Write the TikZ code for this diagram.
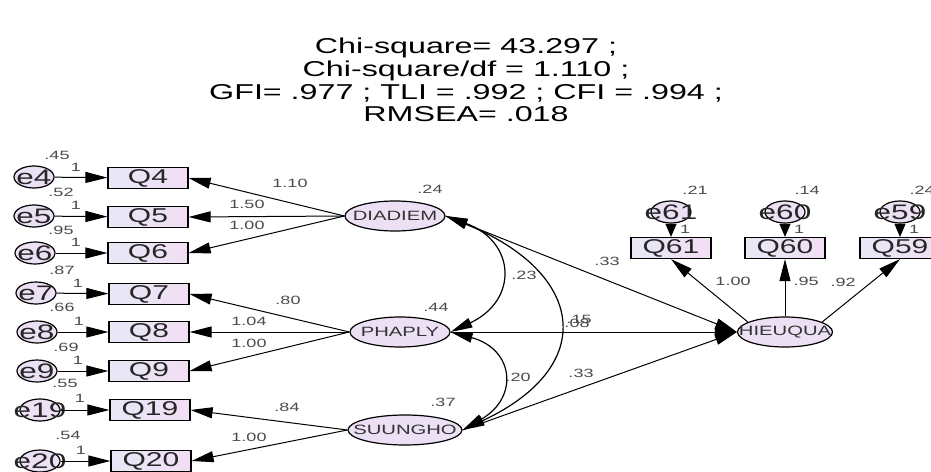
\documentclass[tikz,border=0pt]{standalone}
\usepackage{fontspec}
\setmainfont{Liberation Sans}[FakeStretch=1.5]
\usepackage{xcolor}
\usetikzlibrary{positioning, arrows.meta, shapes.geometric}

\definecolor{latfill}{RGB}{236,224,244}
\definecolor{boxleft}{RGB}{230,232,246}
\definecolor{boxright}{RGB}{242,222,244}
\definecolor{numgray}{RGB}{75,75,75}

\newcommand{\ovl}[1]{\makebox[0pt]{#1}}

\begin{document}
\begin{tikzpicture}[x=1pt, y=1pt,
  lat/.style={ellipse, draw, line width=1.2pt, fill=latfill, inner sep=0pt, minimum height=30pt, font=\fontsize{13.5}{14}\selectfont, text=black!80},
  err/.style={ellipse, draw, line width=1.2pt, fill=latfill, inner sep=0pt, minimum width=40pt, minimum height=22pt, font=\fontsize{21}{21}\selectfont, text=black!85},
  obs/.style={rectangle, draw, line width=1.2pt, left color=boxleft, right color=boxright, inner sep=0pt, minimum width=80pt, minimum height=21pt, font=\fontsize{20}{20}\selectfont, text=black!85},
  coef/.style={inner sep=0pt, font=\fontsize{12}{12}\selectfont, text=numgray},
  regr/.style={line width=1pt, -{Triangle[length=22pt, width=11pt]}},
  short/.style={line width=1pt, -{Triangle[length=13pt, width=11pt]}},
  cov/.style={line width=1.2pt, {Triangle[length=22pt, width=10pt]}-{Triangle[length=22pt, width=10pt]}}]

\useasboundingbox (0,0) rectangle (931,-471);
\clip (0,0) rectangle (931,-471);

\node[align=center, font=\fontsize{21.5}{22.7}\selectfont] (fit) at (466,-80) {Chi-square= 43.297 ;\\Chi-square/df = 1.110 ;\\GFI= .977 ; TLI = .992 ; CFI = .994 ;\\RMSEA= .018};

\node[lat, minimum width=100pt] (DIADIEM) at (395,-216) {\ovl{DIADIEM}};
\node[lat, minimum width=100pt] (PHAPLY) at (400,-332) {\ovl{PHAPLY}};
\node[lat, minimum width=114pt] (SUUNGHO) at (405,-430) {\ovl{SUUNGHO}};
\node[lat, minimum width=95pt] (HIEUQUA) at (785,-332) {\ovl{HIEUQUA}};

\node[obs] (Q4) at (148,-178) {Q4};
\node[obs] (Q5) at (148,-217) {Q5};
\node[obs] (Q6) at (148,-253) {Q6};
\node[obs] (Q7) at (149,-294) {Q7};
\node[obs] (Q8) at (149,-332) {Q8};
\node[obs] (Q9) at (149,-371) {Q9};
\node[obs] (Q19) at (150,-410) {Q19};
\node[obs] (Q20) at (151,-461) {Q20};
\node[obs] (Q61) at (671,-248) {Q61};
\node[obs] (Q60) at (785,-248) {Q60};
\node[obs] (Q59) at (900,-248) {Q59};

\node[err] (e4) at (34,-177) {\ovl{e4}};
\node[err] (e5) at (34,-216) {\ovl{e5}};
\node[err] (e6) at (35,-253) {\ovl{e6}};
\node[err] (e7) at (36,-293) {\ovl{e7}};
\node[err] (e8) at (37,-332) {\ovl{e8}};
\node[err] (e9) at (37,-371) {\ovl{e9}};
\node[err] (e19) at (40,-410) {\ovl{e19}};
\node[err] (e20) at (40,-461) {\ovl{e20}};
\node[err] (e61) at (671,-212) {\ovl{e61}};
\node[err] (e60) at (785,-212) {\ovl{e60}};
\node[err] (e59) at (900,-212) {\ovl{e59}};

\draw[regr] (e4) -- (Q4);
\draw[regr] (e5) -- (Q5);
\draw[regr] (e6) -- (Q6);
\draw[regr] (e7) -- (Q7);
\draw[regr] (e8) -- (Q8);
\draw[regr] (e9) -- (Q9);
\draw[regr] (e19) -- (Q19);
\draw[regr] (e20) -- (Q20);
\draw[short] (e61) -- (Q61);
\draw[short] (e60) -- (Q60);
\draw[short] (e59) -- (Q59);

\draw[regr] (DIADIEM.west) -- (Q4.east);
\draw[regr] (DIADIEM.west) -- (Q5.east);
\draw[regr] (DIADIEM.west) -- (Q6.east);
\draw[regr] (PHAPLY.west) -- (Q7.east);
\draw[regr] (PHAPLY.west) -- (Q8.east);
\draw[regr] (PHAPLY.west) -- (Q9.east);
\draw[regr] (SUUNGHO.west) -- (Q19.east);
\draw[regr] (SUUNGHO.west) -- (Q20.east);
\draw[regr] (HIEUQUA.165) -- (Q61.south);
\draw[regr] (HIEUQUA.north) -- (Q60.south);
\draw[regr] (HIEUQUA.15) -- (Q59.south);

\draw[regr] (DIADIEM.east) -- (HIEUQUA.west);
\draw[regr] (PHAPLY.east) -- (HIEUQUA.west);
\draw[regr] (SUUNGHO.east) -- (HIEUQUA.west);

\draw[cov] (DIADIEM.east) to[out=-20, in=25, looseness=1.65] (PHAPLY.east);
\draw[cov] (DIADIEM.east) to[out=-22, in=25, looseness=1.8] (SUUNGHO.east);
\draw[cov] (PHAPLY.east) to[out=-15, in=30, looseness=1.7] (SUUNGHO.east);

\node[coef] (v4) at (57,-155) {.45};
\node[coef] (v5) at (61,-192) {.52};
\node[coef] (v6) at (61,-230) {.95};
\node[coef] (v7) at (62,-270) {.87};
\node[coef] (v8) at (62,-307) {.66};
\node[coef] (v9) at (66,-347) {.69};
\node[coef] (v19) at (65,-383) {.55};
\node[coef] (v20) at (68,-435) {.54};
\node[coef] (v61) at (695,-190) {.21};
\node[coef] (v60) at (807,-190) {.14};
\node[coef] (v59) at (922,-190) {.24};

\node[coef] (w4) at (76,-167) {1};
\node[coef] (w5) at (76,-205) {1};
\node[coef] (w6) at (76,-242) {1};
\node[coef] (w7) at (78,-283) {1};
\node[coef] (w8) at (79,-321) {1};
\node[coef] (w9) at (78,-360) {1};
\node[coef] (w19) at (80,-398) {1};
\node[coef] (w20) at (81,-450) {1};
\node[coef] (w61) at (685,-229) {1};
\node[coef] (w60) at (799,-229) {1};
\node[coef] (w59) at (914,-229) {1};

\node[coef] (l4) at (290,-183) {1.10};
\node[coef] (l5) at (247,-204) {1.50};
\node[coef] (l6) at (247,-225) {1.00};
\node[coef] (l7) at (288,-300) {.80};
\node[coef] (l8) at (249,-321) {1.04};
\node[coef] (l9) at (249,-343) {1.00};
\node[coef] (l19) at (287,-407) {.84};
\node[coef] (l20) at (249,-437) {1.00};
\node[coef] (l61) at (733,-281) {1.00};
\node[coef] (l60) at (806,-281) {.95};
\node[coef] (l59) at (843,-282) {.92};

\node[coef] (vDIADIEM) at (430,-189) {.24};
\node[coef] (vPHAPLY) at (436,-307) {.44};
\node[coef] (vSUUNGHO) at (443,-402) {.37};

\node[coef] (bDIADIEM) at (607,-261) {.33};
\node[coef] (bPHAPLY) at (579,-319) {.15};
\node[coef] (cDS) at (577,-323) {.08};
\node[coef] (bSUUNGHO) at (581,-373) {.33};
\node[coef] (cDP) at (524,-275) {.23};
\node[coef] (cPS) at (518,-377) {.20};

\end{tikzpicture}
\end{document}
